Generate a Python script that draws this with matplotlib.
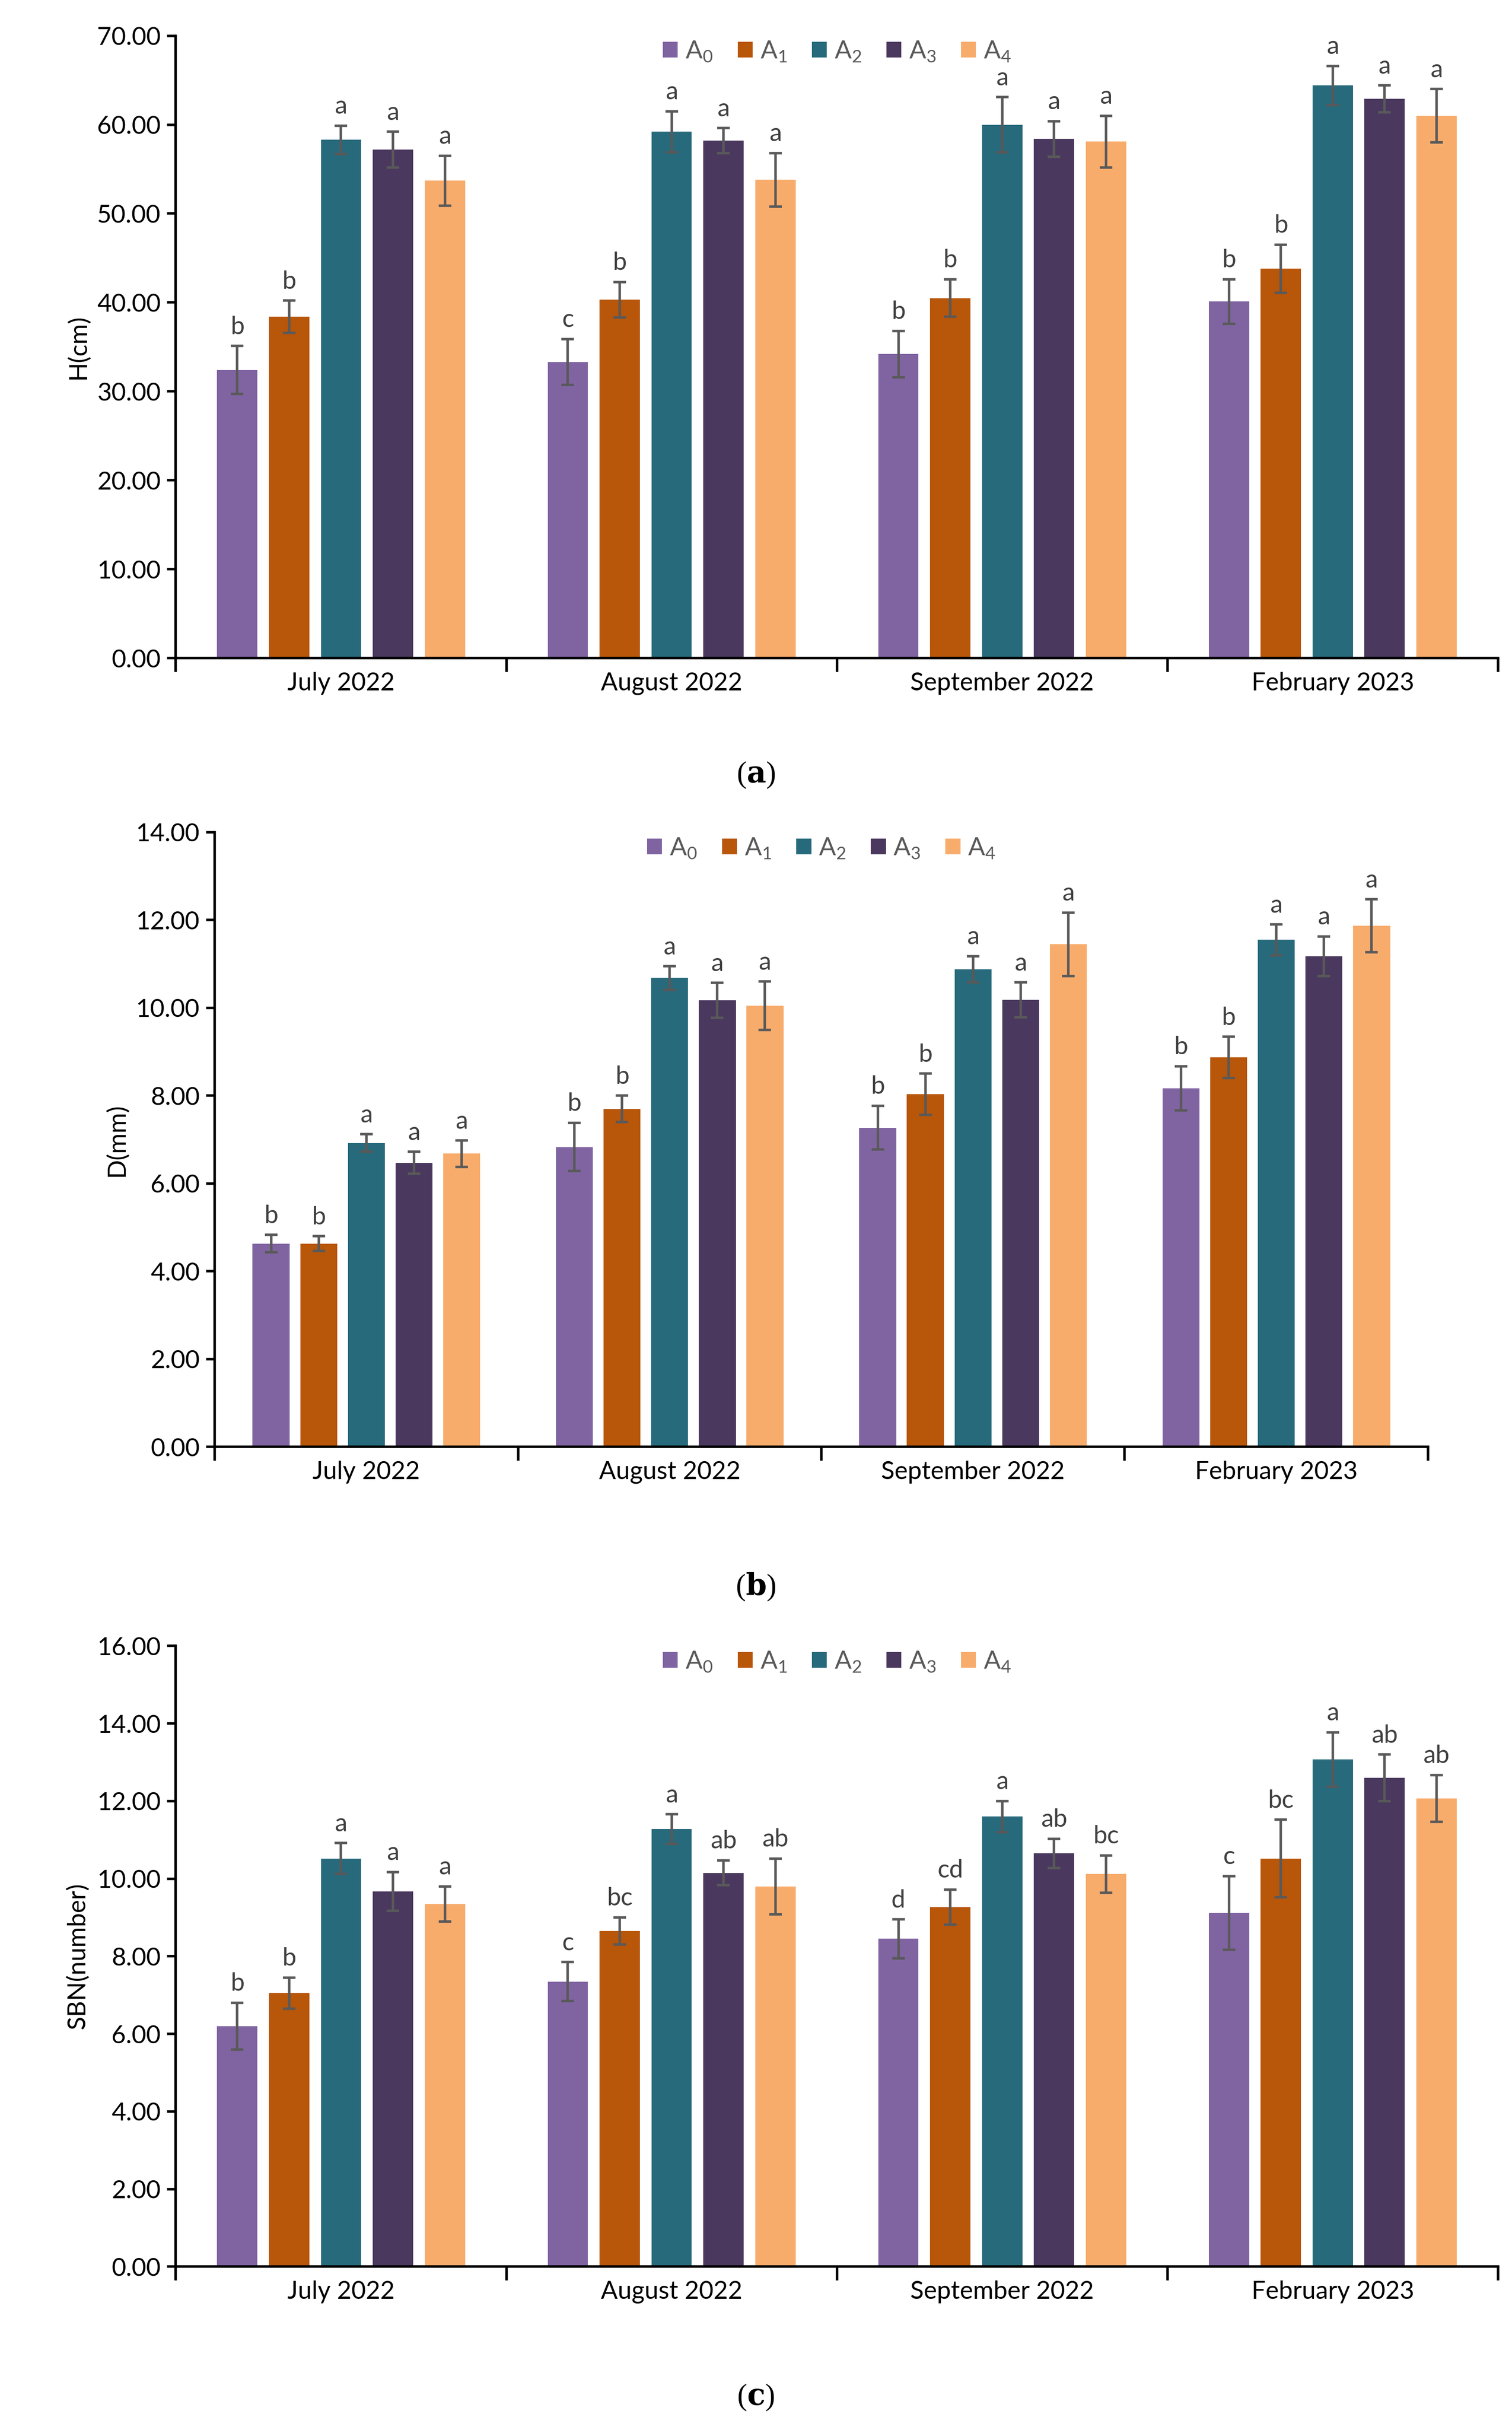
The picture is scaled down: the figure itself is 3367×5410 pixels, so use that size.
import numpy as np
import matplotlib.pyplot as plt

months = ['July 2022', 'August 2022', 'September 2022', 'February 2023']
series = ['A$_0$', 'A$_1$', 'A$_2$', 'A$_3$', 'A$_4$']
colors = ['#8064A2', '#B8560A', '#276A7C', '#4A385E', '#F8AC6C']

# rows = months, cols = A0..A4
h_mean = [[32.4, 38.4, 58.3, 57.2, 53.7],
          [33.3, 40.3, 59.2, 58.2, 53.8],
          [34.2, 40.5, 60.0, 58.4, 58.1],
          [40.1, 43.8, 64.4, 62.9, 61.0]]
h_err = [[2.7, 1.8, 1.6, 2.0, 2.8],
         [2.6, 2.0, 2.3, 1.4, 3.0],
         [2.6, 2.1, 3.1, 2.0, 2.9],
         [2.5, 2.7, 2.2, 1.5, 3.0]]
h_let = [['b', 'b', 'a', 'a', 'a'],
         ['c', 'b', 'a', 'a', 'a'],
         ['b', 'b', 'a', 'a', 'a'],
         ['b', 'b', 'a', 'a', 'a']]

d_mean = [[4.63, 4.63, 6.92, 6.47, 6.68],
          [6.83, 7.70, 10.68, 10.17, 10.05],
          [7.27, 8.03, 10.88, 10.18, 11.45],
          [8.17, 8.87, 11.55, 11.18, 11.87]]
d_err = [[0.20, 0.17, 0.20, 0.25, 0.30],
         [0.55, 0.30, 0.27, 0.40, 0.55],
         [0.50, 0.47, 0.30, 0.40, 0.72],
         [0.50, 0.47, 0.35, 0.45, 0.60]]
d_let = [['b', 'b', 'a', 'a', 'a']] * 4

s_mean = [[6.20, 7.05, 10.52, 9.67, 9.35],
          [7.35, 8.65, 11.28, 10.15, 9.80],
          [8.45, 9.27, 11.60, 10.65, 10.12],
          [9.12, 10.52, 13.07, 12.60, 12.07]]
s_err = [[0.60, 0.40, 0.40, 0.50, 0.45],
         [0.50, 0.35, 0.38, 0.32, 0.72],
         [0.50, 0.45, 0.40, 0.38, 0.48],
         [0.95, 1.00, 0.70, 0.60, 0.60]]
s_let = [['b', 'b', 'a', 'a', 'a'],
         ['c', 'bc', 'a', 'ab', 'ab'],
         ['d', 'cd', 'a', 'ab', 'bc'],
         ['c', 'bc', 'a', 'ab', 'ab']]

plt.rcParams['font.family'] = ['Lato', 'DejaVu Sans']
plt.rcParams['mathtext.fontset'] = 'custom'
plt.rcParams['mathtext.rm'] = 'Lato'

W, H = 972, 1562
fig = plt.figure(figsize=(33.67, 54.10), dpi=100)

def rect(l, r, t, b):
    return [l / W, 1 - b / H, (r - l) / W, (b - t) / H]

panels = [
    (rect(113, 963, 23, 423), h_mean, h_err, h_let, 'H(cm)', 70, 10, 498, '(a)'),
    (rect(138, 918, 535, 930), d_mean, d_err, d_let, 'D(mm)', 14, 2, 1020, '(b)'),
    (rect(113, 963, 1058, 1457), s_mean, s_err, s_let, 'SBN(number)', 16, 2, 1541, '(c)'),
]

fs = 40
step, bw = 0.157, 0.122
x = np.arange(len(months))
for pos, mean, err, let, ylab, ymax, ystep, capy, cap in panels:
    ax = fig.add_axes(pos)
    mean = np.array(mean); err = np.array(err)
    for j in range(5):
        xs = x + (j - 2) * step
        ax.bar(xs, mean[:, j], bw, color=colors[j], label=series[j], zorder=2)
        ax.errorbar(xs, mean[:, j], yerr=err[:, j], fmt='none', ecolor='#595959',
                    elinewidth=4, capsize=10, capthick=4, zorder=3)
        for i in range(len(months)):
            ax.text(xs[i], mean[i, j] + err[i, j] + ymax * 0.012, let[i][j],
                    ha='center', va='bottom', fontsize=fs, color='#404040')
    ax.set_xlim(-0.5, len(months) - 0.5)
    ax.set_ylim(0, ymax)
    ax.set_yticks(np.arange(0, ymax + 0.01, ystep))
    ax.set_yticklabels([f'{v:.2f}' for v in np.arange(0, ymax + 0.01, ystep)])
    ax.set_xticks(x)
    ax.set_xticklabels(months)
    ax.set_xticks(np.arange(-0.5, len(months)), minor=True)
    ax.tick_params(axis='x', which='major', length=0, labelsize=fs, pad=22)
    ax.tick_params(axis='x', which='minor', length=22, width=4, direction='out')
    ax.tick_params(axis='y', labelsize=fs, length=14, width=4, pad=10)
    ax.set_ylabel(ylab, fontsize=fs, labelpad=12)
    for s in ['top', 'right']:
        ax.spines[s].set_visible(False)
    for s in ['left', 'bottom']:
        ax.spines[s].set_linewidth(4)
    ax.legend(loc='upper center', bbox_to_anchor=(0.5, 1.03), ncol=5, frameon=False,
              fontsize=fs, handlelength=0.6, handleheight=0.6, handletextpad=0.3,
              columnspacing=1.0, labelcolor='#595959')
    fig.text(0.5, 1 - capy / H, '(', ha='center', va='center', fontsize=48,
             family='Liberation Serif')
    fig.text(0.5, 1 - capy / H, cap, ha='center', va='center', fontsize=48,
             family='Liberation Serif', fontweight='bold', color='none')
    fig.text(0.5, 1 - capy / H, r'($\bf{' + cap[1] + r'}$)', ha='center', va='center',
             fontsize=48, family='Liberation Serif', math_fontfamily='dejavuserif')

# remove the helper paren texts (keep only the mathtext caption)
for t in list(fig.texts):
    if t.get_text() == '(' or t.get_color() == 'none':
        t.remove()

fig.savefig('out.png', dpi=100)
